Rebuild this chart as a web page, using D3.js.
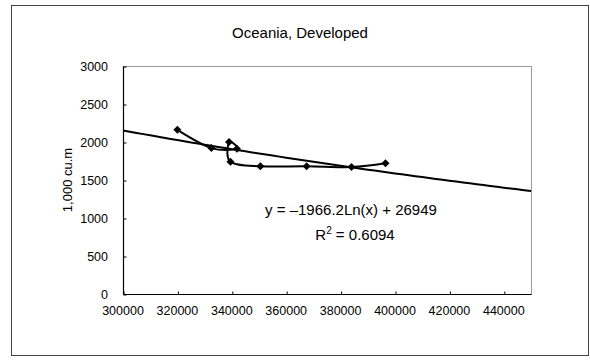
<!DOCTYPE html>
<html>
<head>
<meta charset="utf-8">
<script src="https://cdn.jsdelivr.net/npm/d3@7"></script>
<style>
  html, body { margin: 0; padding: 0; background: #fff; }
  svg { display: block; font-family: "Liberation Sans", Arial, sans-serif; }
</style>
</head>
<body>
<svg id="chart" width="590" height="360"></svg>
<script>
// Removals (x) against production (y), in time order
const removals = [320000, 332500, 341900, 339000, 339500, 350500, 367500, 384000, 396500];
const production = [2160, 1920, 1910, 2000, 1740, 1680, 1680, 1670, 1720];

// Logarithmic trend line  y = a·ln(x) + b
const trendA = -1966.2;
const trendB = 26949;
const rSquared = 0.6094;

const xTicks = [300000, 320000, 340000, 360000, 380000, 400000, 420000, 440000];
const yTicks = [0, 500, 1000, 1500, 2000, 2500, 3000];

const titleText = "Oceania, Developed";
const yTitleText = "1,000 cu.m";

const svg = d3.select("#chart");

// outer chart frame
svg.append("rect")
  .attr("x", 11.5).attr("y", 5.5)
  .attr("width", 577).attr("height", 350)
  .attr("fill", "#fff").attr("stroke", "#444").attr("stroke-width", 1);

const plot = { left: 123, right: 531, top: 66, bottom: 294 };

const x = d3.scaleLinear().domain([300000, 450000]).range([plot.left, plot.right]);
const y = d3.scaleLinear().domain([0, 3000]).range([plot.bottom, plot.top]);

// plot area border (dotted top/right)
svg.append("rect")
  .attr("x", plot.left + 0.5).attr("y", plot.top + 0.5)
  .attr("width", plot.right - plot.left).attr("height", plot.bottom - plot.top)
  .attr("fill", "none").attr("stroke", "#333").attr("stroke-width", 1)
  .attr("stroke-dasharray", "1,1");

// axes with inward ticks
const xAxis = svg.append("g")
  .attr("transform", `translate(0.5,${plot.bottom + 0.5})`)
  .call(d3.axisTop(x).tickValues(xTicks).tickSize(3).tickFormat(""));
xAxis.select(".domain").attr("stroke", "#000").attr("d", `M${plot.left},0H${plot.right}`);
xAxis.selectAll(".tick line").attr("stroke", "#000");

svg.append("g").selectAll("text")
  .data(xTicks).join("text")
  .attr("x", d => x(d)).attr("y", plot.bottom + 21)
  .attr("text-anchor", "middle")
  .attr("font-size", 12.5).attr("fill", "#000")
  .text(d => d);

const yAxis = svg.append("g")
  .attr("transform", `translate(${plot.left + 0.5},0.5)`)
  .call(d3.axisRight(y).tickValues(yTicks).tickSize(3).tickFormat(""));
yAxis.select(".domain").attr("stroke", "#000").attr("stroke-width", 1.2)
  .attr("d", `M0,${plot.top}V${plot.bottom}`);
yAxis.selectAll(".tick line").attr("stroke", "#000");

svg.append("g").selectAll("text")
  .data(yTicks).join("text")
  .attr("x", 108).attr("y", d => y(d) + 4.5)
  .attr("text-anchor", "end")
  .attr("font-size", 12.5).attr("fill", "#000")
  .text(d => d);

// titles
svg.append("text")
  .attr("x", 300).attr("y", 38)
  .attr("text-anchor", "middle").attr("font-size", 15).attr("fill", "#000")
  .text(titleText);

svg.append("text")
  .attr("transform", `translate(72,${(plot.top + plot.bottom) / 2}) rotate(-90)`)
  .attr("text-anchor", "middle").attr("font-size", 13).attr("fill", "#000")
  .text(yTitleText);

// trend line sampled across the x domain
const trendXs = d3.range(300000, 450001, 2500);
const trendLine = d3.line()
  .x(d => x(d))
  .y(d => y(trendA * Math.log(d) + trendB));
svg.append("path")
  .datum(trendXs)
  .attr("d", trendLine)
  .attr("fill", "none").attr("stroke", "#000").attr("stroke-width", 2);

// smoothed data line
const pts = removals.map((v, i) => [v, production[i]]);
const dataLine = d3.line()
  .x(d => x(d[0])).y(d => y(d[1]))
  .curve(d3.curveCatmullRom.alpha(0));
svg.append("path")
  .datum(pts)
  .attr("d", dataLine)
  .attr("fill", "none").attr("stroke", "#000").attr("stroke-width", 2);

// diamond markers
svg.append("g").selectAll("path")
  .data(pts).join("path")
  .attr("transform", d => `translate(${x(d[0])},${y(d[1])})`)
  .attr("d", "M0,-4L4,0L0,4L-4,0Z")
  .attr("fill", "#000");

// regression label
const eq = svg.append("text")
  .attr("x", 351).attr("y", 215)
  .attr("text-anchor", "middle").attr("font-size", 15).attr("fill", "#000")
  .text(`y = \u2013${Math.abs(trendA)}Ln(x) + ${trendB}`);

const r2 = svg.append("text")
  .attr("x", 355).attr("y", 240)
  .attr("text-anchor", "middle").attr("font-size", 15).attr("fill", "#000");
r2.append("tspan").text("R");
r2.append("tspan").attr("dy", -6).attr("font-size", 10).text("2");
r2.append("tspan").attr("dy", 6).text(` = ${rSquared}`);
</script>
</body>
</html>
